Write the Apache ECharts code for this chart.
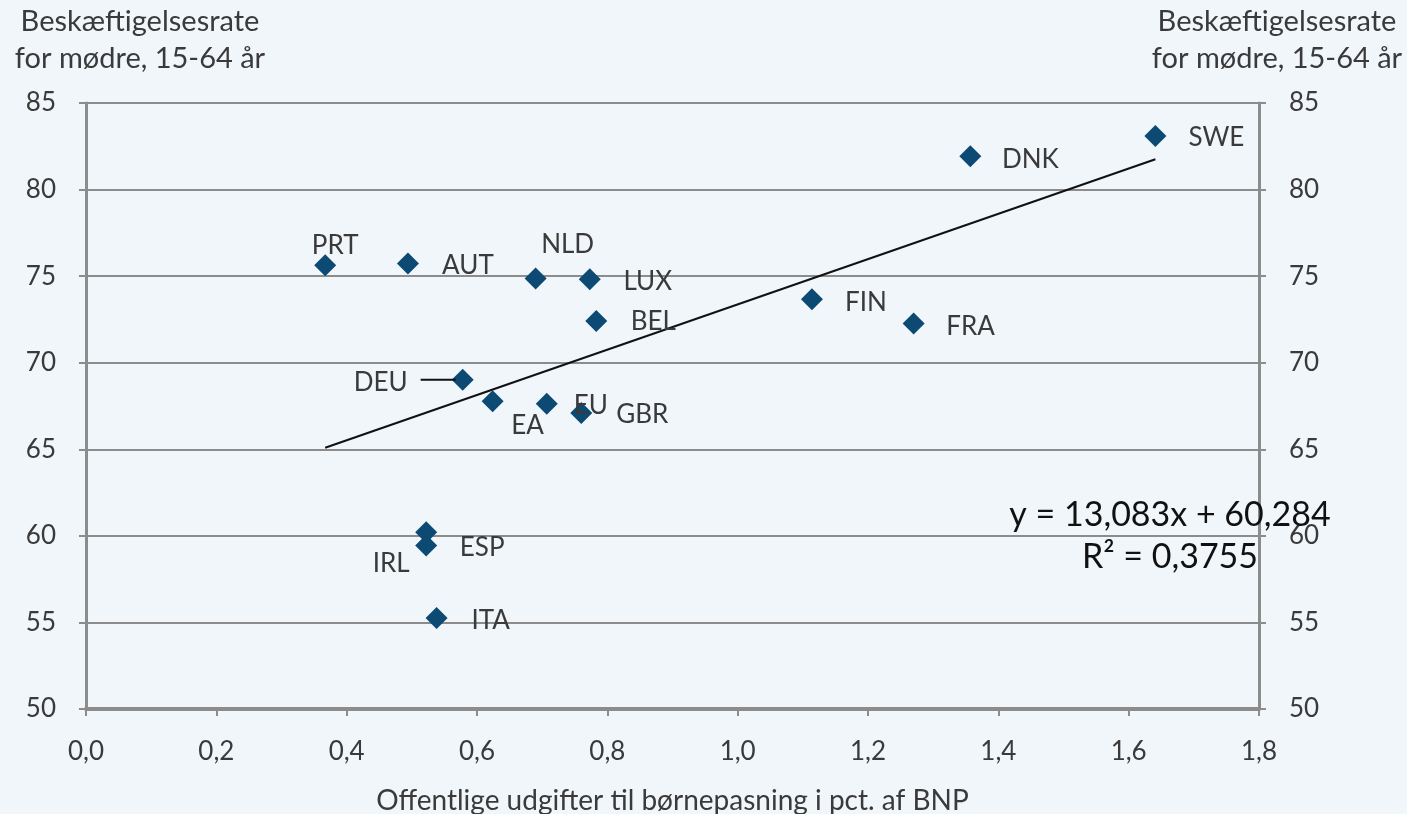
<!DOCTYPE html>
<html><head><meta charset="utf-8">
<script src="https://cdn.jsdelivr.net/npm/echarts@6/dist/echarts.min.js"></script>
<style>html,body{margin:0;padding:0;background:#F1F6FB}#c{width:1407px;height:814px}</style>
</head><body><div id="c"></div>
<script>
// ---- data ----
const countries  = ['PRT','AUT','NLD','LUX','BEL','FIN','FRA','DNK','SWE','DEU','EA','EU','GBR','ESP','IRL','ITA'];
const spending   = [0.367,0.494,0.690,0.773,0.783,1.114,1.270,1.357,1.641,0.578,0.624,0.707,0.760,0.522,0.522,0.538];
const employment = [75.63,75.73,74.86,74.82,72.41,73.66,72.26,81.93,83.09,69.02,67.78,67.63,67.09,60.21,59.44,55.25];
const xTickLabels = ['0,0','0,2','0,4','0,6','0,8','1,0','1,2','1,4','1,6','1,8'];
const yAxisTitle = 'Beskæftigelsesrate\nfor mødre, 15-64 år';
const xAxisTitle = 'Offentlige udgifter til børnepasning i pct. af BNP';
const trendSlope = 13.083;
const trendIntercept = 60.284;
const trendLabel = 'y = 13,083x + 60,284\nR² = 0,3755';

// ---- label placement (pixels relative to marker) ----
const labelOffsets = {PRT:[10,-20],AUT:[60,2],NLD:[32,-34],LUX:[58,2],BEL:[57,1],FIN:[54,3],FRA:[57,3],
  DNK:[60,3],SWE:[61,2],DEU:[-82,3],EA:[35,24],EU:[44,2],GBR:[61,2],ESP:[56,15],IRL:[-35,18],ITA:[54,3]};

const FONT = 'Lato, "Open Sans", sans-serif';
const TXT = '#3a3a3a';
const GRID = '#8c8c8c';

const chart = echarts.init(document.getElementById('c'), null, {renderer:'canvas'});

const points = countries.map((c,i)=>({
  name:c, value:[spending[i], employment[i]],
  label:{offset: labelOffsets[c]}
}));
const xMin = Math.min(...spending), xMax = Math.max(...spending);
const trend = [[xMin, trendSlope*xMin+trendIntercept],[xMax, trendSlope*xMax+trendIntercept]];

const yAxisCommon = {
  type:'value', min:50, max:85, interval:5,
  axisLine:{show:true, lineStyle:{color:GRID, width:3}},
  axisTick:{show:true, inside:false, length:7, lineStyle:{color:GRID, width:2}},
  axisLabel:{color:TXT, fontSize:26, fontFamily:FONT, margin:30}
};

chart.setOption({
  backgroundColor:'#F1F6FB',
  animation:false,
  grid:{left:86, width:1173, top:103, height:606, containLabel:false, outerBoundsMode:'none'},
  xAxis:{
    type:'value', min:0, max:1.8, interval:0.2,
    axisLine:{show:true, onZero:false, lineStyle:{color:GRID, width:4}},
    axisTick:{show:true, length:7, lineStyle:{color:GRID, width:2}},
    splitLine:{show:false},
    axisLabel:{color:TXT, fontSize:26, fontFamily:FONT, margin:30,
      formatter:(v)=>xTickLabels[Math.round(v/0.2)]},
    name:xAxisTitle, nameLocation:'middle', nameGap:78,
    nameTextStyle:{color:TXT, fontSize:28, fontFamily:FONT}
  },
  yAxis:[
    Object.assign({}, yAxisCommon, {position:'left',
      splitLine:{show:true, lineStyle:{color:GRID, width:2}}}),
    Object.assign({}, yAxisCommon, {position:'right',
      splitLine:{show:false}})
  ],
  series:[
    {
      type:'line', data:trend, symbol:'none', silent:true,
      lineStyle:{color:'#111', width:2}, z:3
    },
    {
      type:'scatter', data:points, symbol:'diamond', symbolSize:22,
      itemStyle:{color:'#0C4A73', opacity:1}, z:4,
      label:{show:true, position:'inside', align:'center', verticalAlign:'middle',
        formatter:'{b}', color:TXT, fontSize:26, fontFamily:FONT}
    }
  ],
  graphic:[
    {id:'tl', type:'text', x:140, y:40, style:{text:yAxisTitle, fill:TXT, font:'29px '+FONT, align:'center', verticalAlign:'middle', lineHeight:37}},
    {id:'tr', type:'text', x:1277, y:40, style:{text:yAxisTitle, fill:TXT, font:'29px '+FONT, align:'center', verticalAlign:'middle', lineHeight:37}},
    {id:'eq', type:'text', x:1170, y:536, style:{text:trendLabel, fill:'#111', font:'34px '+FONT, align:'center', verticalAlign:'middle', lineHeight:42}, z:10}
  ]
});

// leader line for DEU label
const deuIdx = countries.indexOf('DEU');
const p = chart.convertToPixel({gridIndex:0}, [spending[deuIdx], employment[deuIdx]]);
chart.setOption({graphic:[{id:'deuLine', type:'line', shape:{x1:p[0]-42, y1:p[1], x2:p[0]-7, y2:p[1]},
  style:{stroke:'#111', lineWidth:2}, z:5}]});
</script></body></html>
